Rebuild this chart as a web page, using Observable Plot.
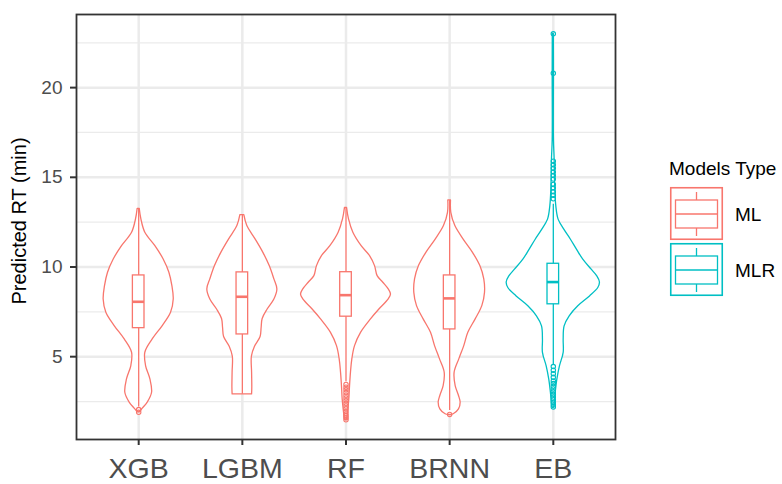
<!DOCTYPE html>
<html><head><meta charset="utf-8">
<script src="https://cdn.jsdelivr.net/npm/d3@7"></script>
<script src="https://cdn.jsdelivr.net/npm/@observablehq/plot@0.6"></script>
<style>
body{margin:0;background:#fff;font-family:"Liberation Sans",Arial,sans-serif;}
#wrap{position:relative;width:782px;height:484px;overflow:hidden;}
#legend{position:absolute;left:0;top:0;pointer-events:none;}
</style></head><body><div id="wrap"></div>
<script>
// ---- data ----
const categories = ["XGB", "LGBM", "RF", "BRNN", "EB"];
const modelType = ["ML", "ML", "ML", "ML", "MLR"];
const typeNames = ["ML", "MLR"];
const typeColors = ["#F8766D", "#00BFC4"];

// violin outlines: y value and half-width (fraction of category spacing)
const xgbY = [13.24,12.65,11.91,11.16,10.42,9.68,8.93,8.19,7.45,6.71,5.96,5.22,4.48,3.73,2.99,2.44,2.10,1.90];
const xgbW = [.010,.026,.064,.161,.241,.296,.325,.338,.312,.232,.135,.064,.071,.113,.129,.087,.039,.010];
const lgbmY = [12.89,12.28,11.53,10.79,10.05,9.31,8.75,8.19,7.63,7.10,6.60,6.10,5.55,5.00,4.11,3.30,2.90];
const lgbmW = [.019,.048,.129,.203,.264,.309,.338,.309,.244,.196,.186,.176,.122,.092,.094,.096,.094];
const rfY = [13.30,12.65,11.91,11.16,10.61,10.05,9.49,9.12,8.75,8.47,8.19,7.63,7.08,6.33,5.59,4.85,4.11,3.36,2.62,1.88,1.60,1.46];
const rfW = [.010,.029,.071,.151,.232,.280,.305,.360,.412,.434,.412,.322,.241,.145,.087,.061,.048,.039,.032,.019,.013,.006];
const brnnY = [13.71,13.02,12.28,11.53,10.79,10.05,9.31,8.56,7.82,7.08,6.33,5.59,4.85,4.11,3.36,2.81,2.44,2.06,1.79,1.75];
const brnnW = [.013,.016,.055,.135,.225,.296,.334,.341,.315,.251,.180,.141,.093,.048,.058,.090,.106,.090,.039,.010];
const ebY = [23.0,20.8,17.09,15.97,14.31,13.38,12.64,12.08,11.52,10.97,10.41,9.85,9.48,9.14,8.83,8.36,7.81,7.25,6.69,5.95,5.21,4.46,3.72,2.98,2.23,2.15];
const ebW = [.005,.006,.006,.013,.019,.029,.051,.106,.170,.228,.289,.370,.424,.450,.434,.354,.241,.158,.109,.100,.100,.064,.039,.023,.010,.005];

// box plot statistics
const boxQ1 = [6.59, 6.24, 7.23, 6.52, 7.92];
const boxMedian = [8.06, 8.34, 8.43, 8.25, 9.16];
const boxQ3 = [9.53, 9.70, 9.71, 9.53, 10.18];
const whiskerLow = [2.20, 2.90, 3.60, 2.00, 4.55];
const whiskerHigh = [13.24, 12.89, 13.30, 13.71, 13.50];

// outliers
const xgbOut = [2.05, 1.90];
const lgbmOut = [];
const rfOut = [3.45,3.30,3.15,3.00,2.85,2.70,2.55,2.40,2.25,2.10,1.95,1.80,1.70,1.60,1.48];
const brnnOut = [1.78];
const ebOut = [23.0,20.8,15.9,15.7,15.5,15.3,15.1,14.9,14.6,14.4,14.2,14.0,13.8,
               4.45,4.25,4.05,3.85,3.65,3.50,3.35,3.20,3.05,2.90,2.75,2.60,2.45,2.30,2.20];

const yMajor = [5, 10, 15, 20];
const yMinor = [2.5, 7.5, 12.5, 17.5, 22.5];
const yTitle = "Predicted RT (min)";
const legendTitle = "Models Type";

// ---- build tables ----
const violinY = [xgbY, lgbmY, rfY, brnnY, ebY];
const violinW = [xgbW, lgbmW, rfW, brnnW, ebW];
const outs = [xgbOut, lgbmOut, rfOut, brnnOut, ebOut];

const violinRows = [];
categories.forEach((c, i) => {
  violinY[i].forEach((y, j) => {
    const w = violinW[i][j];
    violinRows.push({cat: c, type: modelType[i], y, x1: i - w, x2: i + w});
  });
});
const boxRows = categories.map((c, i) => ({
  cat: c, i, type: modelType[i], q1: boxQ1[i], med: boxMedian[i], q3: boxQ3[i],
  lo: whiskerLow[i], hi: whiskerHigh[i]
}));
const outRows = [];
categories.forEach((c, i) => outs[i].forEach(v => outRows.push({cat: c, i, type: modelType[i], v})));

const allY = violinRows.map(d => d.y).concat(outRows.map(d => d.v));
const yMin = d3.min(allY), yMax = d3.max(allY);
const pad = (yMax - yMin) * 0.05;
const boxHalf = 0.056;
const idx = categories.map((c, i) => i);
const FONT = '"Liberation Sans", Arial, sans-serif';

const chart = Plot.plot({
  width: 782,
  height: 484,
  marginLeft: 76,
  marginRight: 167,
  marginTop: 14,
  marginBottom: 45,
  style: {fontFamily: FONT, background: "white"},
  x: {domain: [-0.6, categories.length - 0.4]},
  y: {domain: [yMin - pad, yMax + pad]},
  color: {domain: typeNames, range: typeColors},
  marks: [
    Plot.ruleY(yMinor, {stroke: "#EBEBEB", strokeWidth: 1.3}),
    Plot.ruleY(yMajor, {stroke: "#EBEBEB", strokeWidth: 2.5}),
    Plot.ruleX(idx, {stroke: "#EBEBEB", strokeWidth: 2.5}),
    Plot.areaX(violinRows, {y: "y", x1: "x1", x2: "x2", z: "cat", fill: "white", stroke: "type", strokeWidth: 1.3, curve: "catmull-rom"}),
    Plot.ruleX(boxRows, {x: "i", y1: "lo", y2: "hi", stroke: "type", strokeWidth: 1.3}),
    Plot.rect(boxRows, {x1: d => d.i - boxHalf, x2: d => d.i + boxHalf, y1: "q1", y2: "q3", fill: "white", stroke: "type", strokeWidth: 1.3}),
    Plot.ruleY(boxRows, {y: "med", x1: d => d.i - boxHalf, x2: d => d.i + boxHalf, stroke: "type", strokeWidth: 2.6}),
    Plot.dot(outRows, {x: "i", y: "v", r: 2.2, stroke: "type", fill: "none", strokeWidth: 1.1}),
    Plot.frame({stroke: "#333333", strokeWidth: 1.8}),
    Plot.axisY(yMajor, {tickSize: 6, tickPadding: 8, fontSize: 19, fill: "#4D4D4D", stroke: "#333333", strokeWidth: 2, label: null}),
    Plot.axisX(idx, {tickSize: 6, tickPadding: 12, fontSize: 28.5, fill: "#4D4D4D", stroke: "#333333", strokeWidth: 2, label: null, tickFormat: i => categories[i]}),
    Plot.text([yTitle], {frameAnchor: "left", textAnchor: "middle", dx: -57, dy: -6, rotate: -90, fontSize: 20, fill: "black"})
  ]
});
const wrap = document.getElementById("wrap");
wrap.appendChild(chart);

// ---- legend ----
const svg = d3.select(wrap).append("svg").attr("id", "legend")
  .attr("width", 782).attr("height", 484)
  .style("font-family", FONT);
svg.append("text").attr("x", 669).attr("y", 175).attr("font-size", 19).attr("fill", "black").text(legendTitle);
typeNames.forEach((t, k) => {
  const y0 = 187 + k * 56, x0 = 670, s = 53, col = typeColors[k];
  const g = svg.append("g");
  g.append("rect").attr("x", x0 + 0.75).attr("y", y0 + 0.75).attr("width", s - 1.5).attr("height", s - 1.5)
    .attr("fill", "white").attr("stroke", col).attr("stroke-width", 1.6);
  const cx = x0 + s / 2;
  g.append("line").attr("x1", cx).attr("x2", cx).attr("y1", y0 + 5).attr("y2", y0 + 13).attr("stroke", col).attr("stroke-width", 1.3);
  g.append("line").attr("x1", cx).attr("x2", cx).attr("y1", y0 + 41).attr("y2", y0 + 49).attr("stroke", col).attr("stroke-width", 1.3);
  g.append("rect").attr("x", x0 + 5.5).attr("y", y0 + 13).attr("width", s - 11).attr("height", 28)
    .attr("fill", "white").attr("stroke", col).attr("stroke-width", 1.3);
  g.append("line").attr("x1", x0 + 5.5).attr("x2", x0 + s - 5.5).attr("y1", y0 + 27).attr("y2", y0 + 27).attr("stroke", col).attr("stroke-width", 1.3);
  g.append("text").attr("x", 735).attr("y", y0 + 27).attr("dy", "0.35em").attr("font-size", 19).attr("fill", "black").text(t);
});
</script>
</body></html>
